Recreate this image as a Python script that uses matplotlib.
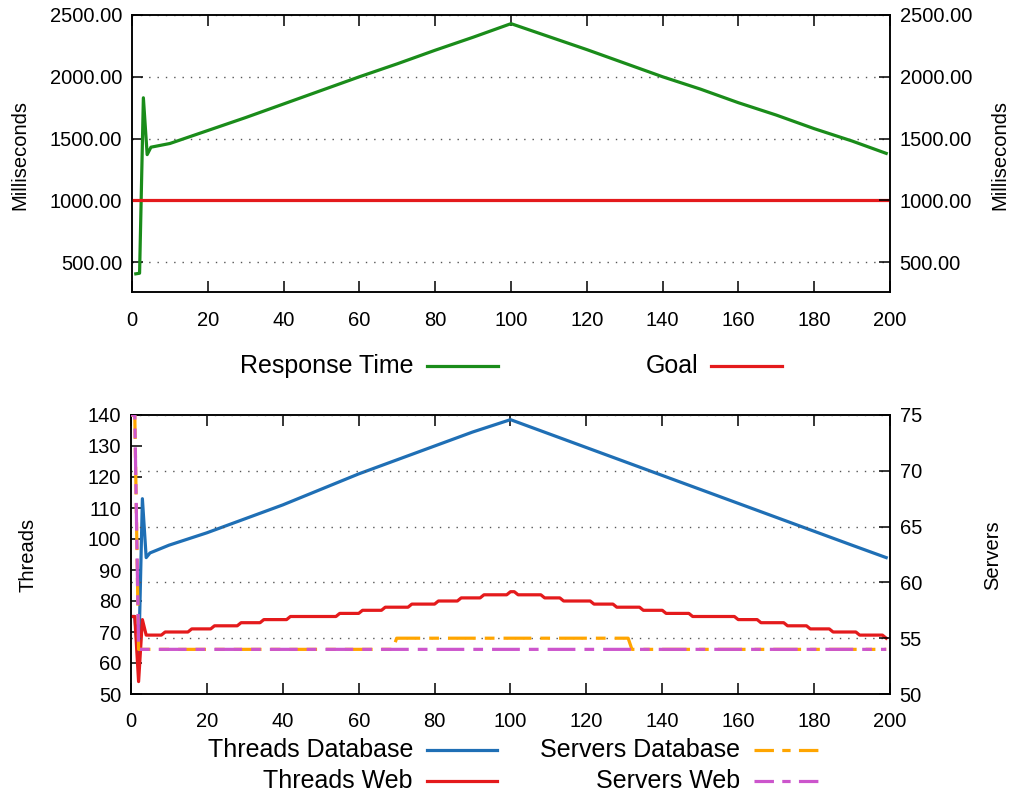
import matplotlib
matplotlib.use("Agg")
import matplotlib.pyplot as plt
from matplotlib.lines import Line2D
from matplotlib.ticker import FormatStrFormatter

plt.rcParams['font.family'] = ['Liberation Sans', 'DejaVu Sans']
plt.rcParams['lines.scale_dashes'] = False

# ---------------- data ----------------
# Response time (ms)
rt_x = [1, 2, 3, 4, 5, 10, 20, 30, 40, 50, 60, 70, 80, 90, 100,
        110, 120, 130, 140, 150, 160, 170, 180, 190, 199]
rt_y = [405, 410, 1830, 1370, 1430, 1460, 1565, 1670, 1780, 1890, 2000, 2105, 2215, 2320, 2430,
        2325, 2220, 2110, 2000, 1900, 1790, 1690, 1580, 1480, 1380]
goal_x = [0, 200]
goal_y = [1000, 1000]

# Threads database
tdb_x = [0, 1, 2, 3, 4, 5, 10, 20, 30, 40, 50, 60, 70, 80, 90, 100,
         110, 120, 130, 140, 150, 160, 170, 180, 190, 199]
tdb_y = [75, 75, 60, 113, 94, 95.5, 98, 102, 106.5, 111, 116, 121, 125.5, 130, 134.5, 138.5,
         134, 129.5, 125, 120.5, 116, 111.5, 107, 102.5, 98, 94]

# Threads web (staircase vertices)
tw_x = [0, 1, 2, 3, 4, 8, 9, 15, 16, 21, 22, 28, 29, 34, 35, 41, 42, 54, 55, 60, 61, 66,
        67, 73, 74, 80, 81, 86, 87, 92, 93, 99, 100, 101, 102, 108, 109, 113, 114, 121,
        122, 127, 128, 134, 135, 140, 141, 147, 148, 159, 160, 165, 166, 172, 173, 178,
        179, 184, 185, 191, 192, 198, 199]
tw_y = [75, 75, 54, 74, 69, 69, 70, 70, 71, 71, 72, 72, 73, 73, 74, 74, 75, 75, 76, 76, 77, 77,
        78, 78, 79, 79, 80, 80, 81, 81, 82, 82, 83, 83, 82, 82, 81, 81, 80, 80,
        79, 79, 78, 78, 77, 77, 76, 76, 75, 75, 74, 74, 73, 73, 72, 72,
        71, 71, 70, 70, 69, 69, 68]

# Servers (right axis)
sdb_x = [0, 1, 2, 69, 70, 131, 132, 199]
sdb_y = [75, 75, 54, 54, 55, 55, 54, 54]
sw_x = [0, 1, 2, 199]
sw_y = [75, 75, 54, 54]

ms_ticks = [500, 1000, 1500, 2000, 2500]
x_ticks = list(range(0, 201, 20))
thr_ticks = list(range(50, 141, 10))
srv_ticks = list(range(50, 76, 5))

GREEN = '#1a8c1a'
RED = '#e41a1c'
BLUE = '#1f6fb5'
ORANGE = '#ffa500'
MAGENTA = '#cc55cc'
DASH = (0, (20, 6.5, 7, 6.5))

W, H = 1012, 796
fig = plt.figure(figsize=(W / 100, H / 100), dpi=100)

def fx(px):
    return px / W

def fy(py):
    return 1 - py / H

TICK = dict(direction='in', length=8, width=1.1, labelsize=14.5, colors='black')
GRID = dict(linestyle=(0, (1, 5)), color='#555555', linewidth=1.0)

# ---------------- top chart ----------------
ax = fig.add_axes([fx(132), fy(292), fx(890) - fx(132), fy(15) - fy(292)])
ax.plot(rt_x, rt_y, color=GREEN, lw=2.3, zorder=3)
ax.plot(goal_x, goal_y, color=RED, lw=2.3, zorder=3)
ax.set_xlim(0, 200)
ax.set_ylim(258, 2500)
ax.set_xticks(x_ticks)
ax.set_yticks(ms_ticks)
ax.yaxis.set_major_formatter(FormatStrFormatter('%.2f'))
ax.tick_params(axis='both', top=True, **TICK)
ax.tick_params(axis='x', pad=14)
ax.tick_params(axis='y', pad=7)
ax.yaxis.grid(True, **GRID)
ax.set_axisbelow(True)
for s in ax.spines.values():
    s.set_linewidth(1.1)
axr = ax.twinx()
axr.set_ylim(258, 2500)
axr.set_yticks(ms_ticks)
axr.yaxis.set_major_formatter(FormatStrFormatter('%.2f'))
axr.tick_params(axis='y', pad=7, **TICK)
for s in axr.spines.values():
    s.set_linewidth(1.1)

fig.text(fx(20), fy(155), 'Milliseconds', rotation=90, ha='center', va='center', fontsize=14.5)
fig.text(fx(1000), fy(155), 'Milliseconds', rotation=90, ha='center', va='center', fontsize=14.5)

# ---------------- bottom chart ----------------
ab = fig.add_axes([fx(131), fy(694), fx(890) - fx(131), fy(415) - fy(694)])
ab2 = ab.twinx()
ab.plot(tdb_x, tdb_y, color=BLUE, lw=2.3, zorder=3)
ab.plot(tw_x, tw_y, color=RED, lw=2.3, zorder=3)
ab2.plot(sdb_x, sdb_y, color=ORANGE, lw=2.3, linestyle=DASH, zorder=3)
ab2.plot(sw_x, sw_y, color=MAGENTA, lw=2.3, linestyle=(14, (20, 6.5, 7, 6.5)), zorder=4)
ab.set_xlim(0, 200)
ab.set_ylim(50, 140)
ab.set_xticks(x_ticks)
ab.set_yticks(thr_ticks)
ab.tick_params(axis='both', top=True, **TICK)
ab.tick_params(axis='x', pad=13)
ab.tick_params(axis='y', pad=7)
ab2.set_ylim(50, 75)
ab2.set_yticks(srv_ticks)
ab2.tick_params(axis='y', pad=7, **TICK)
ab2.yaxis.grid(True, **GRID)
ab2.set_axisbelow(True)
for a in (ab, ab2):
    for s in a.spines.values():
        s.set_linewidth(1.1)

fig.text(fx(28), fy(555), 'Threads', rotation=90, ha='center', va='center', fontsize=14.5)
fig.text(fx(993), fy(555), 'Servers', rotation=90, ha='center', va='center', fontsize=14.5)

# ---------------- legends (gnuplot style: text then sample) ----------------
def legend_entry(text, text_right, y, x0, x1, color, ls='-'):
    fig.text(fx(text_right), fy(y), text, ha='right', va='center', fontsize=18)
    fig.add_artist(Line2D([fx(x0), fx(x1)], [fy(y), fy(y)], color=color, lw=2.3,
                          linestyle=ls, transform=fig.transFigure))

LEG_DASH = (0, (14, 6, 6, 6))
legend_entry('Response Time', 414, 366, 427, 498, GREEN)
legend_entry('Goal', 698, 366, 711, 782, RED)
legend_entry('Threads Database', 413, 750, 427, 497, BLUE)
legend_entry('Threads Web', 413, 781, 427, 497, RED)
legend_entry('Servers Database', 740, 750, 754, 824, ORANGE, LEG_DASH)
legend_entry('Servers Web', 740, 781, 754, 824, MAGENTA, LEG_DASH)

fig.savefig('out.png', dpi=100)
